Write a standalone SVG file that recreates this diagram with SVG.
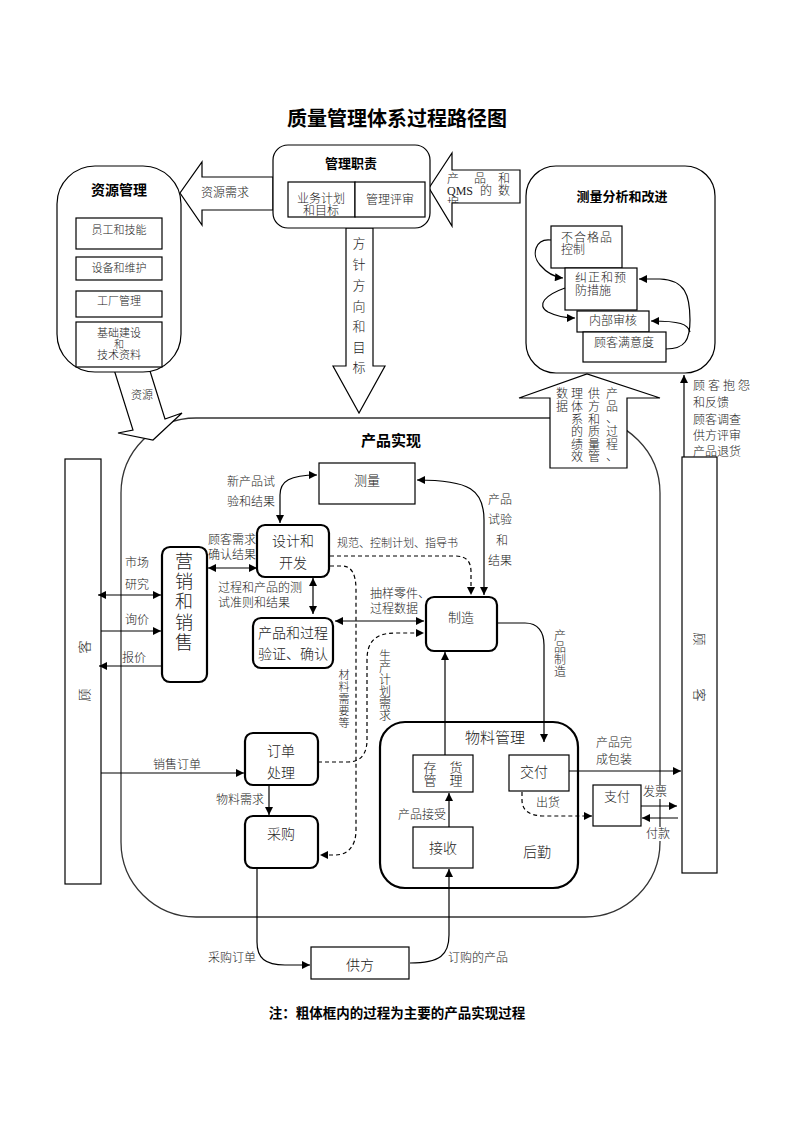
<svg xmlns="http://www.w3.org/2000/svg" width="793" height="1122" viewBox="0 0 793 1122">
<defs>
<style>
text{font-family:"Liberation Serif","Noto Sans CJK SC",serif;fill:#222;dominant-baseline:central;font-weight:300}
.s11{font-size:11px}.s12{font-size:12px}.s13{font-size:13px}.s14{font-size:14px}.s15{font-size:15px}
.b{font-family:"Noto Sans CJK SC",sans-serif;font-weight:bold;fill:#000}
.m{text-anchor:middle}
.box{fill:#fff;stroke:#000;stroke-width:1.2}
.tk{fill:#fff;stroke:#000;stroke-width:2.2}
.ln{fill:none;stroke:#000;stroke-width:1.2}
.dl{fill:none;stroke:#000;stroke-width:1.2;stroke-dasharray:4 3}
.area{fill:none;stroke:#333;stroke-width:1.3}
</style>
<marker id="ah" viewBox="0 0 10 10" refX="10" refY="5" markerWidth="9" markerHeight="8" markerUnits="userSpaceOnUse" orient="auto-start-reverse"><path d="M0,0L10,5L0,10z" fill="#000"/></marker>
<clipPath id="qc"><rect x="432" y="170" width="88" height="33"/></clipPath>
</defs>
<rect width="793" height="1122" fill="#fff"/>

<text class="b m" x="397" y="117" style="font-size:20px">质量管理体系过程路径图</text>

<!-- product realization area -->
<g id="product-realization">
<rect class="area" x="121" y="418" width="539" height="499" rx="75" ry="75"/>
</g>

<!-- block arrows -->
<g id="arrow-resource">
<polygon class="box" points="111,360 145,355 165,419 182,413 153,440 118,433 133,430"/>
<text class="s11 m" x="142" y="395">资源</text>
</g>
<g id="arrow-data">
<polygon class="box" points="550,468 550,398 519,398 587,374 660,398 627,398 627,468"/>
<text class="s12 m"><tspan x="612" y="394">产</tspan><tspan x="612" y="407">品</tspan><tspan x="612" y="419">、</tspan><tspan x="612" y="432">过</tspan><tspan x="612" y="445">程</tspan><tspan x="612" y="457">、</tspan></text>
<text class="s12 m"><tspan x="594" y="394">供</tspan><tspan x="594" y="407">方</tspan><tspan x="594" y="420">和</tspan><tspan x="594" y="432">质</tspan><tspan x="594" y="445">量</tspan><tspan x="594" y="457">管</tspan></text>
<text class="s12 m"><tspan x="577" y="394">理</tspan><tspan x="577" y="407">体</tspan><tspan x="577" y="420">系</tspan><tspan x="577" y="432">的</tspan><tspan x="577" y="445">绩</tspan><tspan x="577" y="457">效</tspan></text>
<text class="s12 m"><tspan x="562" y="394">数</tspan><tspan x="562" y="407">据</tspan></text>
</g>
<g id="arrow-policy">
<polygon class="box" points="346,228 373,228 373,366 385,366 359,413 333,366 346,366"/>
<text class="s13 m"><tspan x="359" y="243">方</tspan><tspan x="359" y="264">针</tspan><tspan x="359" y="285">方</tspan><tspan x="359" y="306">向</tspan><tspan x="359" y="326">和</tspan><tspan x="359" y="347">目</tspan><tspan x="359" y="367">标</tspan></text>
</g>
<g id="arrow-resource-need">
<polygon class="box" points="273,177 202,177 202,162 180,193 202,225 202,210 273,210"/>
<text class="s12 m" x="225" y="193">资源需求</text>
</g>
<g id="arrow-qms">
<polygon class="box" points="520,170 452,170 452,153 429,188 452,226 452,203 520,203"/>
<g clip-path="url(#qc)">
<text class="s12"><tspan x="447" y="179">产</tspan><tspan x="474" y="179">品</tspan><tspan x="498" y="179">和</tspan></text>
<text class="s12"><tspan x="447" y="191">QMS</tspan><tspan x="480" y="191">的</tspan><tspan x="498" y="191">数</tspan></text>
<text class="s12" x="447" y="204">据</text>
</g>
</g>

<!-- management responsibility -->
<g id="mgmt">
<rect class="box" x="273" y="145" width="157" height="83" rx="15"/>
<text class="b m s13" x="351" y="162">管理职责</text>
<rect class="box" x="288" y="182" width="67" height="35"/>
<rect class="box" x="355" y="182" width="70" height="35"/>
<text class="s12 m" x="321" y="199">业务计划</text>
<text class="s12 m" x="321" y="211">和目标</text>
<text class="s12 m" x="390" y="200">管理评审</text>
</g>

<!-- resource management -->
<g id="resource-mgmt">
<rect class="box" x="57" y="166" width="124" height="206" rx="38"/>
<text class="b m s14" x="119" y="189">资源管理</text>
<rect class="box" x="76" y="218" width="86" height="31"/>
<text class="s11 m" x="119" y="230">员工和技能</text>
<rect class="box" x="76" y="257" width="86" height="23"/>
<text class="s11 m" x="119" y="268">设备和维护</text>
<rect class="box" x="76" y="291" width="86" height="26"/>
<text class="s11 m" x="119" y="301">工厂管理</text>
<rect class="box" x="76" y="322" width="86" height="45"/>
<text class="s11 m" x="119" y="333">基础建设</text>
<text class="m" style="font-size:10px" x="119" y="344">和</text>
<text class="s11 m" x="119" y="355">技术资料</text>
</g>

<!-- measurement analysis -->
<g id="measure-analysis">
<rect class="box" x="526" y="166" width="189" height="207" rx="30"/>
<text class="b m s13" x="622" y="195">测量分析和改进</text>
<rect class="box" x="551" y="226" width="71" height="42"/>
<text class="s12" x="561" y="238" style="letter-spacing:1px">不合格品</text>
<text class="s12" x="561" y="250">控制</text>
<rect class="box" x="565" y="268" width="72" height="42"/>
<text class="s12" x="575" y="278" style="letter-spacing:1px">纠正和预</text>
<text class="s12" x="575" y="291">防措施</text>
<rect class="box" x="577" y="311" width="72" height="21"/>
<text class="s12 m" x="613" y="321">内部审核</text>
<rect class="box" x="583" y="332" width="83" height="30"/>
<text class="s12 m" x="624" y="343">顾客满意度</text>
</g>

<!-- customers -->
<g id="customer-left">
<rect class="box" x="65" y="459" width="36" height="425"/>
<text class="s13 m" transform="translate(84,695) rotate(-90)" x="0" y="0">顾</text>
<text class="s13 m" transform="translate(84,647) rotate(-90)" x="0" y="0">客</text>
</g>
<g id="customer-right">
<rect class="box" x="682" y="457" width="35" height="416"/>
<text class="s13 m" transform="translate(699,639) rotate(90)" x="0" y="0">顾</text>
<text class="s13 m" transform="translate(699,695) rotate(90)" x="0" y="0">客</text>
</g>

<!-- connectors -->
<g id="connectors">
<path class="ln" d="M551,240 C535,238 531,255 540,265 C546,272 553,277 563,278" marker-end="url(#ah)"/>
<path class="ln" d="M565,288 C545,295 536,305 548,312 C556,316 565,318 575,318" marker-end="url(#ah)"/>
<path class="ln" d="M666,349 C685,349 690,340 690,320 C690,295 685,280 660,279 L639,279" marker-end="url(#ah)"/>
<path class="ln" d="M690,332 C688,324 680,321 651,321" marker-end="url(#ah)"/>
<path class="ln" d="M684,457 L684,375" marker-end="url(#ah)"/>
<path class="ln" d="M280,523 L280,495 C280,481 290,475 317,475" marker-start="url(#ah)" marker-end="url(#ah)"/>
<path class="ln" d="M417,480 C470,480 484,490 484,520 L484,595" marker-start="url(#ah)" marker-end="url(#ah)"/>
<path class="dl" d="M330,556 L455,556 C467,556 471,562 471,572 L471,595" marker-end="url(#ah)"/>
<path class="ln" d="M208,568 L257,568" marker-start="url(#ah)" marker-end="url(#ah)"/>
<path class="ln" d="M313,578 L313,614" marker-start="url(#ah)" marker-end="url(#ah)"/>
<path class="ln" d="M335,621 L424,621" marker-start="url(#ah)" marker-end="url(#ah)"/>
<path class="ln" d="M98,595 L161,595" marker-start="url(#ah)" marker-end="url(#ah)"/>
<path class="ln" d="M101,631 L161,631" marker-end="url(#ah)"/>
<path class="ln" d="M162,666 L99,666" marker-end="url(#ah)"/>
<path class="dl" d="M330,566 L342,566 C352,566 356,575 356,590 L356,830 C356,846 348,855 335,855 L320,855" marker-end="url(#ah)"/>
<path class="dl" d="M318,762 L348,762 C362,762 367,752 367,740 L367,660 C367,642 375,633 395,633 L424,633" marker-end="url(#ah)"/>
<path class="ln" d="M101,773 L244,773" marker-end="url(#ah)"/>
<path class="ln" d="M269,786 L269,815" marker-end="url(#ah)"/>
<path class="ln" d="M257,868 L257,942 C257,958 265,965 285,965 L310,965" marker-end="url(#ah)"/>
<path class="ln" d="M410,963 C440,963 449,955 449,935 L449,869" marker-end="url(#ah)"/>
<path class="ln" d="M449,827 L449,793" marker-end="url(#ah)"/>
<path class="ln" d="M445,755 L445,652" marker-end="url(#ah)"/>
<path class="ln" d="M497,623 L525,623 C538,623 544,632 544,645 L544,742" marker-end="url(#ah)"/>
<path class="ln" d="M569,771 L681,771" marker-end="url(#ah)"/>
<path class="dl" d="M522,792 L522,800 C522,811 530,816 545,816 L592,816" marker-end="url(#ah)"/>
<path class="ln" d="M641,806 L677,806" marker-end="url(#ah)"/>
<path class="ln" d="M678,818 L642,818" marker-end="url(#ah)"/>
</g>

<!-- labels -->
<g id="labels">
<text class="b m s15" x="391" y="439">产品实现</text>
<text class="s12" x="693" y="386">顾 客 抱 怨</text>
<text class="s12" x="693" y="403">和反馈</text>
<text class="s12" x="693" y="420">顾客调查</text>
<text class="s12" x="693" y="436">供方评审</text>
<text class="s12" x="693" y="452">产品退货</text>
<text class="s12" x="227" y="482">新产品试</text>
<text class="s12" x="227" y="502">验和结果</text>
<text class="s12 m" x="500" y="500">产品</text>
<text class="s12 m" x="500" y="520">试验</text>
<text class="s12 m" x="502" y="541">和</text>
<text class="s12 m" x="500" y="561">结果</text>
<text class="s11" x="337" y="543">规范、控制计划、指导书</text>
<text class="s12" x="208" y="540">顾客需求</text>
<text class="s12" x="208" y="555">确认结果</text>
<text class="s12" x="218" y="588">过程和产品的测</text>
<text class="s12" x="218" y="603">试准则和结果</text>
<text class="s12" x="370" y="594">抽样零件、</text>
<text class="s12" x="370" y="609">过程数据</text>
<text class="s12 m" x="137" y="563">市场</text>
<text class="s12 m" x="137" y="585">研究</text>
<text class="s12 m" x="137" y="620">询价</text>
<text class="s12 m" x="134" y="658">报价</text>
<text class="s12 m"><tspan x="385" y="656">生</tspan><tspan x="385" y="668">产</tspan><tspan x="385" y="680">计</tspan><tspan x="385" y="692">划</tspan><tspan x="385" y="704">需</tspan><tspan x="385" y="716">求</tspan></text>
<text class="s11 m"><tspan x="344" y="675">材</tspan><tspan x="344" y="687">料</tspan><tspan x="344" y="699">需</tspan><tspan x="344" y="711">要</tspan><tspan x="344" y="723">等</tspan></text>
<text class="s12 m"><tspan x="560" y="636">产</tspan><tspan x="560" y="648">品</tspan><tspan x="560" y="660">制</tspan><tspan x="560" y="672">造</tspan></text>
<text class="s12 m" x="177" y="765">销售订单</text>
<text class="s12 m" x="240" y="800">物料需求</text>
<text class="s12 m" x="614" y="743">产品完</text>
<text class="s12 m" x="614" y="760">成包装</text>
<text class="s12 m" x="548" y="803">出货</text>
<rect x="644" y="785" width="23" height="14" fill="#fff"/>
<text class="s12 m" x="655" y="792">发票</text>
<rect x="646" y="827" width="24" height="14" fill="#fff"/>
<text class="s12 m" x="658" y="834">付款</text>
<text class="s12 m" x="232" y="958">采购订单</text>
<text class="s12 m" x="478" y="958">订购的产品</text>
<text class="b m" style="font-size:13.5px" x="397" y="1012">注：粗体框内的过程为主要的产品实现过程</text>
</g>

<!-- nodes -->
<g id="measure"><rect class="box" x="319" y="463" width="96" height="41"/><text class="s13 m" x="367" y="480">测量</text></g>
<g id="design"><rect class="tk" x="257" y="525" width="72" height="52" rx="8"/><text class="s14 m" x="293" y="541">设计和</text><text class="s14 m" x="293" y="563">开发</text></g>
<g id="marketing"><rect class="tk" x="162" y="547" width="45" height="135" rx="8"/>
<text class="m" style="font-size:18px"><tspan x="184" y="562">营</tspan><tspan x="184" y="582">销</tspan><tspan x="184" y="602">和</tspan><tspan x="184" y="623">销</tspan><tspan x="184" y="643">售</tspan></text></g>
<g id="verify"><rect class="tk" x="253" y="618" width="80" height="50" rx="8"/><text class="s14 m" x="293" y="633">产品和过程</text><text class="s14 m" x="293" y="654">验证、确认</text></g>
<g id="manufacture"><rect class="tk" x="426" y="597" width="71" height="54" rx="8"/><text class="s13 m" x="461" y="617">制造</text></g>
<g id="order"><rect class="tk" x="245" y="733" width="73" height="52" rx="8"/><text class="s14 m" x="281" y="751">订单</text><text class="s14 m" x="281" y="773">处理</text></g>
<g id="purchase"><rect class="tk" x="245" y="816" width="73" height="52" rx="8"/><text class="s14 m" x="281" y="834">采购</text></g>
<g id="material">
<rect class="tk" x="380" y="722" width="198" height="166" rx="25" style="fill:none"/>
<text class="s15 m" x="495" y="738">物料管理</text>
<rect class="box" x="413" y="755" width="60" height="37"/>
<text class="s13 m" x="443" y="767">存　货</text>
<text class="s13 m" x="443" y="780">管　理</text>
<rect class="box" x="509" y="755" width="60" height="36"/>
<text class="s14 m" x="534" y="772">交付</text>
<rect class="box" x="413" y="827" width="60" height="41"/>
<text class="s14 m" x="443" y="848">接收</text>
<text class="s12 m" x="422" y="815">产品接受</text>
<text class="s14 m" x="537" y="852">后勤</text>
</g>
<g id="payment"><rect class="box" x="593" y="785" width="48" height="41"/><text class="s13 m" x="617" y="796">支付</text></g>
<g id="supplier"><rect class="box" x="311" y="947" width="98" height="32"/><text class="s14 m" x="360" y="965">供方</text></g>
</svg>
